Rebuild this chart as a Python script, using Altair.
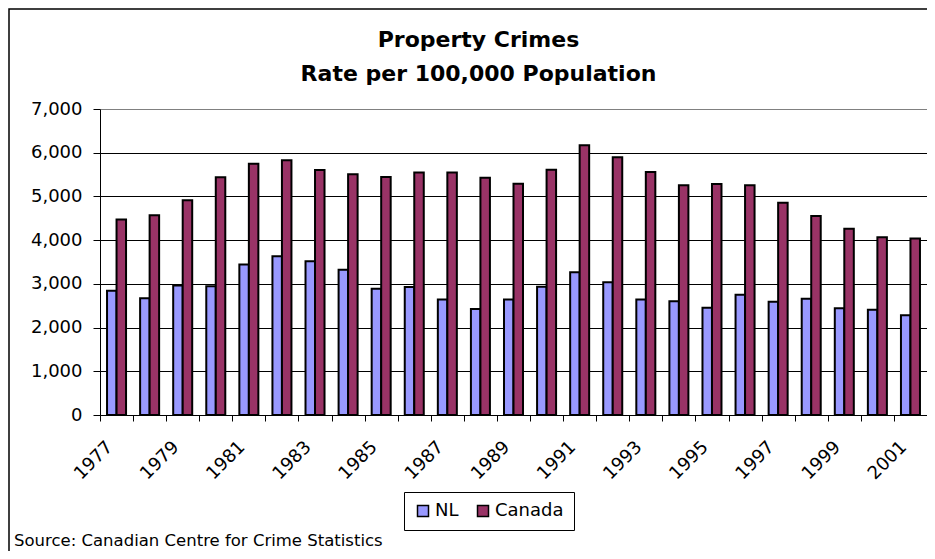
import altair as alt
import pandas as pd

years = [1977, 1978, 1979, 1980, 1981, 1982, 1983, 1984, 1985, 1986, 1987, 1988, 1989,
         1990, 1991, 1992, 1993, 1994, 1995, 1996, 1997, 1998, 1999, 2000, 2001]
nl = [2840, 2670, 2960, 2945, 3440, 3630, 3515, 3325, 2890, 2930, 2645, 2425, 2640,
      2935, 3265, 3035, 2640, 2600, 2455, 2750, 2590, 2660, 2440, 2410, 2280]
canada = [4470, 4570, 4910, 5440, 5750, 5830, 5605, 5505, 5445, 5550, 5550, 5430, 5290,
          5610, 6170, 5895, 5560, 5255, 5285, 5255, 4855, 4550, 4260, 4065, 4040]
series = ["NL", "Canada"]
colors = ["#9999FF", "#993366"]
y_ticks = [0, 1000, 2000, 3000, 4000, 5000, 6000, 7000]
title_lines = ["Property Crimes", "Rate per 100,000 Population"]
source_note = ["Source: Canadian Centre for Crime Statistics"]

rows = []
for i, yr in enumerate(years):
    rows.append({"year": str(yr), "series": "NL", "value": nl[i]})
    rows.append({"year": str(yr), "series": "Canada", "value": canada[i]})
df = pd.DataFrame(rows)
note_df = pd.DataFrame({"label": source_note})

FONT = "DejaVu Sans"

bars = alt.Chart(df).mark_bar(stroke="black", strokeWidth=2).encode(
    x=alt.X("year:O", sort=[str(y) for y in years],
            scale=alt.Scale(paddingInner=0, paddingOuter=0),
            axis=alt.Axis(title=None, tickBand="extent", tickSize=6, tickColor="black",
                          domainColor="black", grid=False,
                          labelExpr="toNumber(datum.value) % 2 == 1 ? datum.label : ''",
                          labelAngle=-45, labelAlign="right", labelBaseline="middle",
                          labelPadding=23, labelOffset=-7, labelOverlap=False,
                          labelFont=FONT, labelFontSize=18, labelColor="black")),
    xOffset=alt.XOffset("series:N", sort=series,
                        scale=alt.Scale(domain=series, paddingInner=0, paddingOuter=0.74)),
    y=alt.Y("value:Q", scale=alt.Scale(domain=[0, 7000], nice=False),
            axis=alt.Axis(title=None, values=y_ticks, format=",.0f", tickSize=7,
                          tickColor="black", domainColor="black", labelPadding=11,
                          labelFont=FONT, labelFontSize=18, labelColor="black",
                          grid=True,
                          gridColor={"condition": {"test": "datum.value >= 7000", "value": "#808080"},
                                     "value": "black"},
                          gridWidth=1)),
    color=alt.Color("series:N", sort=series,
                    scale=alt.Scale(domain=series, range=colors),
                    legend=alt.Legend(title=None, orient="none", legendX=304, legendY=383,
                                      direction="horizontal", symbolType="square",
                                      symbolSize=121, symbolStrokeColor="black",
                                      symbolStrokeWidth=1.5, labelFont=FONT,
                                      labelFontSize=18, labelColor="black", labelOffset=3,
                                      columnPadding=15, padding=10, strokeColor="black",
                                      fillColor="white")),
)

border = alt.Chart(note_df).mark_rect(fillOpacity=0, stroke="black", strokeWidth=1.5).encode(
    x=alt.value(-91), x2=alt.value(1000), y=alt.value(-100), y2=alt.value(1000)
)

note = alt.Chart(note_df).mark_text(align="left", baseline="alphabetic", font=FONT,
                                    fontSize=16.5, color="black").encode(
    x=alt.value(-86), y=alt.value(437), text="label:N"
)

chart = alt.layer(border, bars, note).properties(
    width=827, height=306,
    autosize=alt.AutoSizeParams(type="none"),
    padding={"left": 92, "top": 101, "right": 0, "bottom": 136},
    title=alt.TitleParams(text=title_lines, font=FONT, fontSize=22, fontWeight="bold",
                          color="black", anchor="middle", dx=-35, lineHeight=34,
                          baseline="bottom", offset=-100),
).configure_view(fill="#C0C0C0", stroke="#808080", strokeWidth=1).configure(background="white")

chart.save("out.html", embed_options={"renderer": "svg", "actions": False})
